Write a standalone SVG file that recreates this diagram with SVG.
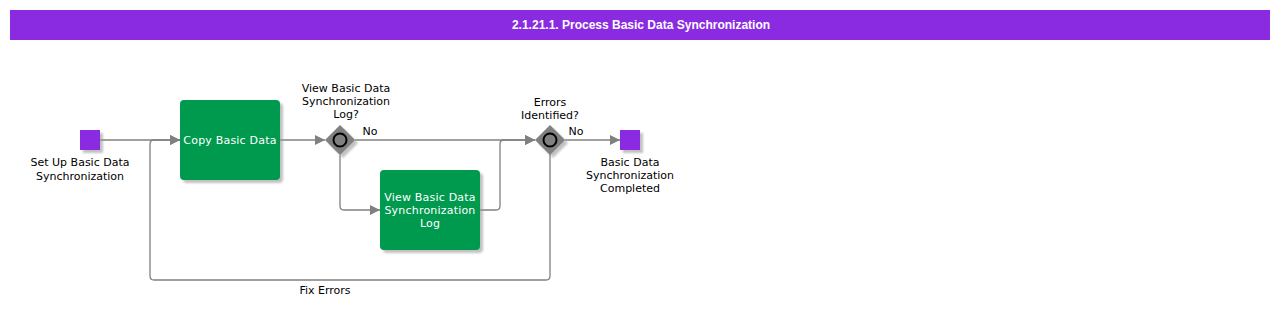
<svg xmlns="http://www.w3.org/2000/svg" width="1280" height="310" viewBox="0 0 1280 310">
<style>
.lbl{font-family:"DejaVu Sans",Verdana,sans-serif;font-size:11px;fill:#000;text-anchor:middle}
.tl{font-family:"DejaVu Sans",Verdana,sans-serif;font-size:11px;fill:#fff;text-anchor:middle;letter-spacing:0.2px}
.title{font-family:"Liberation Sans",Arial,sans-serif;font-size:12px;font-weight:bold;fill:#fff;text-anchor:middle}
.task{fill:#009a4e}
.ev{fill:#8a2be2}
.shadow{fill:#999;opacity:0.6}
.con{fill:none;stroke:#808080;stroke-width:1.3}
.gw{fill:#808080}
.gwc{fill:#808080;stroke:#000;stroke-width:2}
</style>
<defs>
<marker id="arr" viewBox="0 0 10 10" refX="10" refY="5" markerWidth="10" markerHeight="10" markerUnits="userSpaceOnUse" orient="auto">
<path d="M0,0 L10,5 L0,10 z" fill="#808080"/>
</marker>
<filter id="blur" x="-20%" y="-20%" width="140%" height="140%"><feGaussianBlur stdDeviation="1.2"/></filter>
</defs>
<rect x="0" y="0" width="1280" height="310" fill="#fff"/>
<g id="header">
<rect x="10" y="10" width="1260" height="30" fill="#8a2be2"/>
<text class="title" x="641" y="29">2.1.21.1. Process Basic Data Synchronization</text>
</g>
<g id="connectors">
<path class="con" d="M100,140 L180,140" marker-end="url(#arr)"/>
<path class="con" d="M550,154 L550,276 Q550,280 546,280 L154,280 Q150,280 150,276 L150,144 Q150,140 154,140 L180,140" marker-end="url(#arr)"/>
<path class="con" d="M280,140 L325,140" marker-end="url(#arr)"/>
<path class="con" d="M355,140 L535,140" marker-end="url(#arr)"/>
<path class="con" d="M340,155 L340,206 Q340,210 344,210 L380,210" marker-end="url(#arr)"/>
<path class="con" d="M480,210 L496,210 Q500,210 500,206 L500,144 Q500,140 504,140 L535,140" marker-end="url(#arr)"/>
<path class="con" d="M565,140 L620,140" marker-end="url(#arr)"/>
<text class="lbl" x="370" y="135">No</text>
<text class="lbl" x="576" y="135">No</text>
<text class="lbl" x="325" y="294">Fix Errors</text>
</g>
<g id="start">
<rect class="shadow" x="83" y="133" width="20" height="20" filter="url(#blur)"/>
<rect class="ev" x="80" y="130" width="20" height="20"/>
<text class="lbl" x="80" y="166">Set Up Basic Data</text>
<text class="lbl" x="80" y="180">Synchronization</text>
</g>
<g id="copy">
<rect class="shadow" x="183" y="103" width="100" height="80" rx="4" filter="url(#blur)"/>
<rect class="task" x="180" y="100" width="100" height="80" rx="4"/>
<text class="tl" x="230" y="144">Copy Basic Data</text>
</g>
<g id="gw1">
<path class="shadow" d="M343,128 L358,143 L343,158 L328,143 z" filter="url(#blur)"/>
<path class="gw" d="M340,125 L355,140 L340,155 L325,140 z"/>
<circle class="gwc" cx="340" cy="140" r="6.5"/>
<text class="lbl" x="346" y="92">View Basic Data</text>
<text class="lbl" x="346" y="105">Synchronization</text>
<text class="lbl" x="346" y="118">Log?</text>
</g>
<g id="view">
<rect class="shadow" x="383" y="173" width="100" height="80" rx="4" filter="url(#blur)"/>
<rect class="task" x="380" y="170" width="100" height="80" rx="4"/>
<text class="tl" x="430" y="201">View Basic Data</text>
<text class="tl" x="430" y="214">Synchronization</text>
<text class="tl" x="430" y="227">Log</text>
</g>
<g id="gw2">
<path class="shadow" d="M553,128 L568,143 L553,158 L538,143 z" filter="url(#blur)"/>
<path class="gw" d="M550,125 L565,140 L550,155 L535,140 z"/>
<circle class="gwc" cx="550" cy="140" r="6.5"/>
<text class="lbl" x="550" y="106">Errors</text>
<text class="lbl" x="550" y="119">Identified?</text>
</g>
<g id="end">
<rect class="shadow" x="623" y="133" width="20" height="20" filter="url(#blur)"/>
<rect class="ev" x="620" y="130" width="20" height="20"/>
<text class="lbl" x="630" y="166">Basic Data</text>
<text class="lbl" x="630" y="179">Synchronization</text>
<text class="lbl" x="630" y="192">Completed</text>
</g>
</svg>
